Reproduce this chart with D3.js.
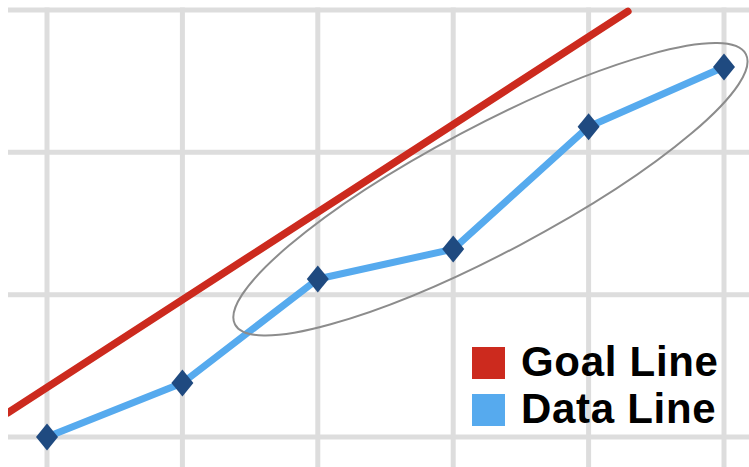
<!DOCTYPE html>
<html>
<head>
<meta charset="utf-8">
<script src="https://cdn.jsdelivr.net/npm/d3@7"></script>
<style>
  html, body { margin: 0; padding: 0; background: #fff; }
  svg { display: block; }
</style>
</head>
<body>
<svg id="chart" width="749" height="467"></svg>
<script>
// Periods along the horizontal axis and the measured values for each
const periods = [0, 1, 2, 3, 4, 5];
const dataValues = [0, 0.38, 1.11, 1.32, 2.18, 2.60];

// Goal line endpoints (period position, value)
const goalX = [-0.29, 4.29];
const goalValues = [0.17, 2.99];

// Gridline levels
const yLevels = [0, 1, 2, 3];

// Highlight ellipse around the recent points (centre in data units)
const highlightCenter = { x: 3.275, y: 1.74 };

// Legend entries
const legendLabels = ["Goal Line", "Data Line"];

const W = 749, H = 467;
const svg = d3.select("#chart");

const x = d3.scaleLinear().domain([0, 5]).range([47, 724]);
const y = d3.scaleLinear().domain([0, 3]).range([437, 10]);

const gridColor = "#dddddd";
const goalColor = "#cc2a1e";
const dataColor = "#56aaee";
const markerColor = "#1f4a80";

// Grid
const grid = svg.append("g");
grid.selectAll("line.v").data(periods).join("line")
  .attr("class", "v")
  .attr("x1", d => x(d)).attr("x2", d => x(d))
  .attr("y1", y(3) - 2.5).attr("y2", H)
  .attr("stroke", gridColor).attr("stroke-width", 5);
grid.selectAll("line.h").data(yLevels).join("line")
  .attr("class", "h")
  .attr("x1", 8).attr("x2", W)
  .attr("y1", d => y(d)).attr("y2", d => y(d))
  .attr("stroke", gridColor).attr("stroke-width", 5);

// Clip so the goal line is cut at the plot's left edge
svg.append("clipPath").attr("id", "plotClip")
  .append("rect").attr("x", 8).attr("y", 0).attr("width", W - 8).attr("height", H);

const line = d3.line().x(d => x(d[0])).y(d => y(d[1]));

svg.append("path")
  .datum(goalX.map((gx, i) => [gx, goalValues[i]]))
  .attr("d", line)
  .attr("clip-path", "url(#plotClip)")
  .attr("fill", "none")
  .attr("stroke", goalColor)
  .attr("stroke-width", 7.5)
  .attr("stroke-linecap", "round");

// Data line
svg.append("path")
  .datum(periods.map((p, i) => [p, dataValues[i]]))
  .attr("d", line)
  .attr("fill", "none")
  .attr("stroke", dataColor)
  .attr("stroke-width", 7)
  .attr("stroke-linejoin", "round");

// Highlight ellipse
svg.append("ellipse")
  .attr("cx", 0).attr("cy", 0)
  .attr("rx", 289).attr("ry", 63)
  .attr("transform", `translate(${x(highlightCenter.x)},${y(highlightCenter.y)}) rotate(-27.9)`)
  .attr("fill", "none")
  .attr("stroke", "#8c8c8c")
  .attr("stroke-width", 2);

// Diamond markers
const dw = 11, dh = 13.5;
svg.selectAll("path.marker").data(periods).join("path")
  .attr("class", "marker")
  .attr("d", `M0,${-dh} L${dw},0 L0,${dh} L${-dw},0 Z`)
  .attr("transform", (d, i) => `translate(${x(d)},${y(dataValues[i])})`)
  .attr("fill", markerColor);

// Legend
const legend = svg.append("g");
const legendColors = [goalColor, dataColor];
legendLabels.forEach((label, i) => {
  const top = 347 + i * 47;
  legend.append("rect")
    .attr("x", 472).attr("y", top)
    .attr("width", 33).attr("height", 32)
    .attr("fill", legendColors[i]);
  legend.append("text")
    .attr("x", 521).attr("y", top + 28.5)
    .attr("font-family", "'Liberation Sans', Arial, sans-serif")
    .attr("font-weight", "bold")
    .attr("font-size", 42)
    .attr("letter-spacing", 0.7)
    .attr("fill", "#000")
    .text(label);
});
</script>
</body>
</html>
